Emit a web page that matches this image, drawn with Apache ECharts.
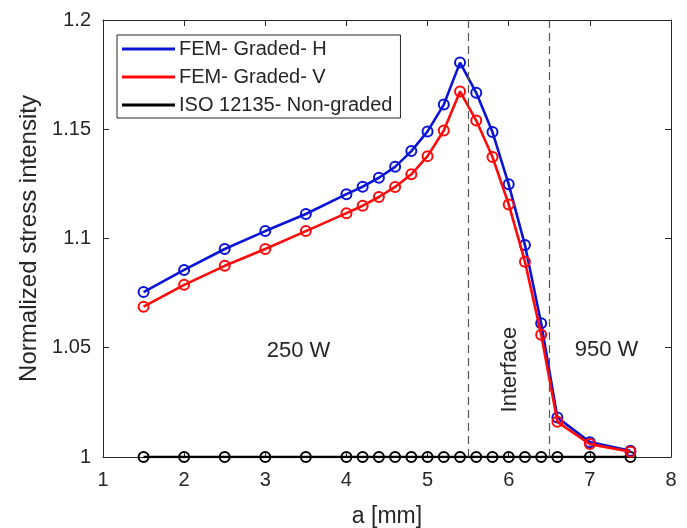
<!DOCTYPE html>
<html>
<head>
<meta charset="utf-8">
<script src="https://cdn.jsdelivr.net/npm/echarts@6/dist/echarts.min.js"></script>
<style>html,body{margin:0;padding:0;background:#fff;}#c{width:687px;height:528px;}</style>
</head>
<body>
<div id="c"></div>
<script>
const aValues = [1.5, 2, 2.5, 3, 3.5, 4, 4.2, 4.4, 4.6, 4.8, 5, 5.2, 5.4, 5.6, 5.8, 6, 6.2, 6.4, 6.6, 7, 7.5];
const gradedH = [1.0755, 1.0856, 1.0952, 1.1034, 1.1112, 1.1203, 1.1237, 1.1278, 1.1328, 1.1400, 1.1490, 1.1613, 1.1805, 1.1667, 1.1487, 1.1248, 1.0970, 1.0612, 1.0181, 1.0068, 1.0029];
const gradedV = [1.0688, 1.0788, 1.0875, 1.0952, 1.1034, 1.1116, 1.1150, 1.1190, 1.1236, 1.1294, 1.1377, 1.1494, 1.1673, 1.1540, 1.1373, 1.1156, 1.0894, 1.0560, 1.0161, 1.0059, 1.0024];
const isoNonGraded = [1, 1, 1, 1, 1, 1, 1, 1, 1, 1, 1, 1, 1, 1, 1, 1, 1, 1, 1, 1, 1];
const seriesNames = ['FEM- Graded- H', 'FEM- Graded- V', 'ISO 12135- Non-graded'];
const seriesColors = ['#0a14d6', '#ff0a0a', '#000000'];
const interfaceBounds = [5.5, 6.5];
const regionLabels = [
  { text: '250 W', x: 3.41, y: 1.0485, rotate: 0 },
  { text: 'Interface', x: 6.02, y: 1.040, rotate: 90 },
  { text: '950 W', x: 7.205, y: 1.0492, rotate: 0 }
];
const xTicks = { min: 1, max: 8, interval: 1 };
const yTicks = { min: 1, max: 1.2, interval: 0.05 };

const FONT = 'Liberation Sans, Arial, Helvetica, sans-serif';
const pair = arr => aValues.map((a, i) => [a, arr[i]]);
const chart = echarts.init(document.getElementById('c'));

function mkSeries(name, data, color, z) {
  return {
    name, type: 'line', data: pair(data), z,
    symbol: 'circle', symbolSize: 10,
    lineStyle: { color, width: 2.6 },
    itemStyle: { color: 'transparent', borderColor: color, borderWidth: 2 },
    emphasis: { disabled: true },
    animation: false
  };
}

const axisCommon = {
  axisLine: { show: true, onZero: false, lineStyle: { color: '#262626', width: 1 } },
  axisTick: { show: true, inside: true, length: 6, lineStyle: { color: '#262626' } },
  splitLine: { show: false }
};

const series = [
  mkSeries(seriesNames[2], isoNonGraded, seriesColors[2], 2),
  mkSeries(seriesNames[0], gradedH, seriesColors[0], 3),
  mkSeries(seriesNames[1], gradedV, seriesColors[1], 4)
];
series[0].markLine = {
  silent: true, symbol: 'none', animation: false,
  label: { show: false },
  lineStyle: { color: '#555', type: [8, 5], width: 1.2 },
  data: interfaceBounds.map(v => ({ xAxis: v }))
};

chart.setOption({
  animation: false,
  textStyle: { fontFamily: FONT },
  grid: { left: 103, right: 16, top: 20, bottom: 71, containLabel: false, outerBoundsMode: 'none' },
  legend: {
    data: seriesNames.map((n, i) => ({ name: n, itemStyle: { color: seriesColors[i], borderWidth: 0 } })),
    orient: 'vertical', left: 117, top: 35,
    icon: 'rect', itemWidth: 53, itemHeight: 3, itemGap: 8,
    padding: [4, 8, 3, 5],
    borderColor: '#262626', borderWidth: 1, backgroundColor: '#fff',
    textStyle: { fontFamily: FONT, fontSize: 20, lineHeight: 20, color: '#262626', padding: [0, 0, 0, -1] },
    selectedMode: false
  },
  xAxis: [
    Object.assign({ type: 'value', min: xTicks.min, max: xTicks.max, interval: xTicks.interval, position: 'bottom',
      name: 'a [mm]', nameLocation: 'middle', nameGap: 48,
      nameTextStyle: { fontFamily: FONT, fontSize: 23, color: '#262626' },
      axisLabel: { fontFamily: FONT, fontSize: 20, color: '#262626', margin: 13 } }, axisCommon),
    Object.assign({ type: 'value', min: xTicks.min, max: xTicks.max, interval: xTicks.interval, position: 'top',
      axisLabel: { show: false } }, axisCommon)
  ],
  yAxis: [
    Object.assign({ type: 'value', min: yTicks.min, max: yTicks.max, interval: yTicks.interval, position: 'left',
      name: 'Normalized stress intensity', nameLocation: 'middle', nameGap: 61,
      nameTextStyle: { fontFamily: FONT, fontSize: 24, color: '#262626' },
      axisLabel: { fontFamily: FONT, fontSize: 20, color: '#262626', margin: 12,
        formatter: v => String(parseFloat(v.toFixed(2))) } }, axisCommon),
    Object.assign({ type: 'value', min: yTicks.min, max: yTicks.max, interval: yTicks.interval, position: 'right',
      axisLabel: { show: false } }, axisCommon)
  ],
  series
});

const graphics = regionLabels.map(l => {
  const p = chart.convertToPixel({ xAxisIndex: 0, yAxisIndex: 0 }, [l.x, l.y]);
  return {
    type: 'text', x: p[0], y: p[1], rotation: l.rotate * Math.PI / 180,
    style: { text: l.text, fontFamily: FONT, fontSize: 22, fill: '#262626', align: 'center', verticalAlign: 'middle' },
    z: 10
  };
});
chart.setOption({ graphic: graphics });
</script>
</body>
</html>
